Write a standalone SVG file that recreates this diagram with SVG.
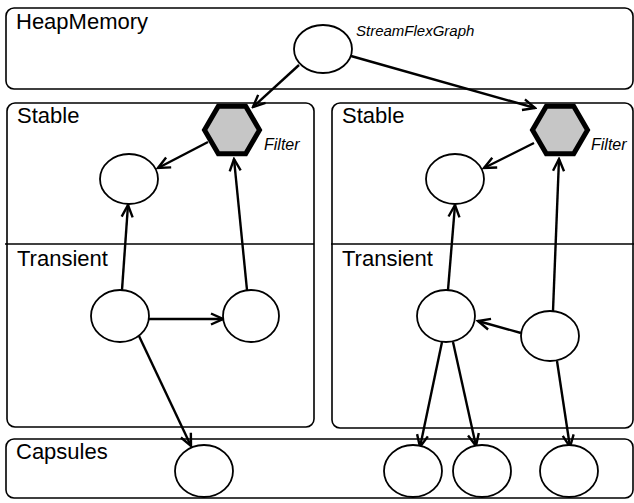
<svg xmlns="http://www.w3.org/2000/svg" width="634" height="503" viewBox="0 0 634 503">
  <style>
    .region { fill: none; stroke: #000; stroke-width: 1.6; }
    .divider { stroke: #000; stroke-width: 1.4; }
    .label { font-family: "Liberation Sans", Arial, sans-serif; font-size: 22px; fill: #000; }
    .tag { font-family: "Liberation Sans", Arial, sans-serif; font-style: italic; fill: #000; }
    .obj { fill: #fff; stroke: #000; stroke-width: 1.8; }
    .filter { fill: #c6c6c6; stroke: #000; stroke-width: 5; stroke-linejoin: miter; }
    .edge { fill: none; stroke: #000; stroke-width: 2.4; marker-end: url(#arrow); }
  </style>
  <defs>
    <marker id="arrow" markerUnits="userSpaceOnUse" markerWidth="16" markerHeight="14" refX="14" refY="7" orient="auto">
      <path d="M2,1.5 L14,7 L2,12.5" fill="none" stroke="#000" stroke-width="2.4"/>
    </marker>
  </defs>

  <rect width="634" height="503" fill="#fff"/>

  <!-- memory areas -->
  <g id="heap-memory">
    <rect class="region" x="6" y="8" width="627" height="81" rx="8"/>
    <text class="label" x="16" y="29">HeapMemory</text>
  </g>
  <g id="left-area">
    <rect class="region" x="7" y="103" width="307" height="324" rx="8"/>
    <line class="divider" x1="5" y1="244" x2="314" y2="244"/>
    <text class="label" x="17" y="123">Stable</text>
    <text class="label" x="17" y="266">Transient</text>
  </g>
  <g id="right-area">
    <rect class="region" x="332" y="103" width="301" height="325" rx="8"/>
    <line class="divider" x1="331" y1="244" x2="634" y2="244"/>
    <text class="label" x="342" y="123">Stable</text>
    <text class="label" x="342" y="266">Transient</text>
  </g>
  <g id="capsules">
    <rect class="region" x="6" y="439" width="627" height="59" rx="8"/>
    <text class="label" x="16" y="459">Capsules</text>
  </g>

  <!-- connectors -->
  <g id="connectors">
    <line class="edge" x1="299" y1="65" x2="253" y2="107"/>
    <line class="edge" x1="351" y1="56" x2="535" y2="108"/>
    <line class="edge" x1="208" y1="142" x2="158" y2="168"/>
    <line class="edge" x1="122" y1="290" x2="128" y2="205"/>
    <line class="edge" x1="247" y1="290" x2="234" y2="159"/>
    <line class="edge" x1="149" y1="319" x2="223" y2="319"/>
    <line class="edge" x1="139" y1="336" x2="191" y2="446"/>
    <line class="edge" x1="534" y1="143" x2="484" y2="168"/>
    <line class="edge" x1="448" y1="290" x2="455" y2="205"/>
    <line class="edge" x1="553" y1="311" x2="559" y2="159"/>
    <line class="edge" x1="521" y1="333" x2="478" y2="321"/>
    <line class="edge" x1="442" y1="342" x2="420" y2="447"/>
    <line class="edge" x1="453" y1="342" x2="476" y2="446"/>
    <line class="edge" x1="557" y1="361" x2="570" y2="447"/>
  </g>

  <!-- nodes -->
  <g id="stream-flex-graph">
    <ellipse class="obj" cx="323" cy="49" rx="29" ry="24"/>
    <text class="tag" x="356" y="36" font-size="15">StreamFlexGraph</text>
  </g>
  <g id="filter-left">
    <polygon class="filter" points="204.5,130 218.3,106.2 245.7,106.2 259.5,130 245.7,153.8 218.3,153.8"/>
    <text class="tag" x="264" y="150" font-size="16">Filter</text>
  </g>
  <g id="filter-right">
    <polygon class="filter" points="532.5,130 546.3,106.2 573.7,106.2 587.5,130 573.7,153.8 546.3,153.8"/>
    <text class="tag" x="591" y="150" font-size="16">Filter</text>
  </g>
  <g id="left-stable-obj"><ellipse class="obj" cx="129" cy="179" rx="29" ry="25"/></g>
  <g id="left-transient-a"><ellipse class="obj" cx="120" cy="316" rx="29" ry="26"/></g>
  <g id="left-transient-b"><ellipse class="obj" cx="251" cy="316" rx="28" ry="26"/></g>
  <g id="right-stable-obj"><ellipse class="obj" cx="455" cy="179" rx="29" ry="25"/></g>
  <g id="right-transient-a"><ellipse class="obj" cx="446" cy="316" rx="29" ry="26"/></g>
  <g id="right-transient-b"><ellipse class="obj" cx="550" cy="336" rx="29" ry="25"/></g>
  <g id="capsule-1"><ellipse class="obj" cx="204" cy="471" rx="29" ry="26"/></g>
  <g id="capsule-2"><ellipse class="obj" cx="413" cy="471" rx="29" ry="26"/></g>
  <g id="capsule-3"><ellipse class="obj" cx="482" cy="471" rx="29" ry="26"/></g>
  <g id="capsule-4"><ellipse class="obj" cx="569" cy="471" rx="29" ry="26"/></g>
</svg>
